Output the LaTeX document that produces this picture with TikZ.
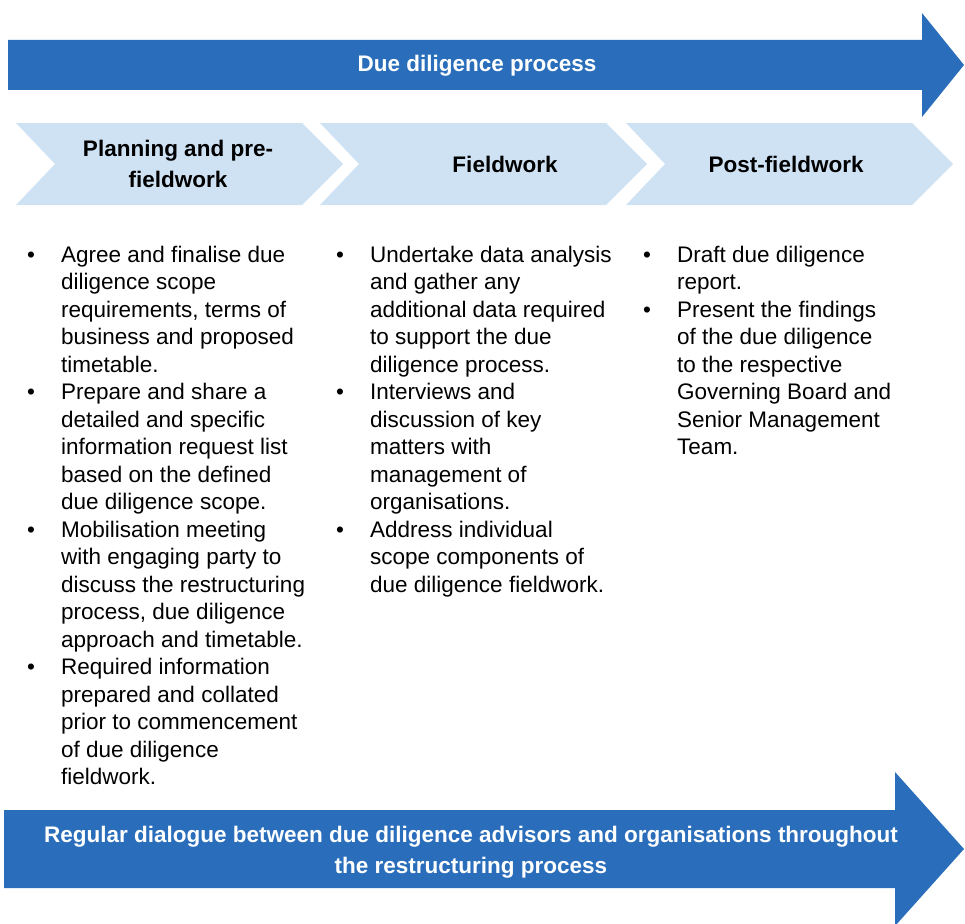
\documentclass[tikz,border=0pt]{standalone}
\usepackage{fontspec}
\setmainfont{Liberation Sans}
\usepackage{tikz}
\usetikzlibrary{positioning}
\definecolor{darkblue}{HTML}{2A6EBB}
\definecolor{lightblue}{HTML}{CFE2F3}
\newcommand{\bul}{\textbullet}

\begin{document}
\begin{tikzpicture}[x=1pt,y=-1pt]
        \useasboundingbox (0,0) rectangle (965,923);
        % big arrows
        \fill[darkblue] (8,40) -- (922,40) -- (922,13) -- (964,65) -- (922,117) -- (922,90) -- (8,90) -- cycle;
        \fill[darkblue] (4,810) -- (895,810) -- (895,772) -- (964,849) -- (895,926) -- (895,888) -- (4,888) -- cycle;
        % chevrons
        \foreach \x in {16,320,626}
          \fill[lightblue] (\x,123) -- ++(286,0) -- ++(41,41) -- ++(-41,41) -- ++(-286,0) -- ++(39,-41) -- cycle;
        \begin{scope}[every node/.style={font=\fontsize{22.5}{31}\selectfont\bfseries,align=center,anchor=base,inner sep=0pt}]
          \node[text=white] (title) at (477,72) {Due diligence process};
          \node (plan) at (178,187) {Planning and pre-\\fieldwork};
          \node (field) at (505,172) {Fieldwork};
          \node (post) at (786,172) {Post-fieldwork};
          \node[text=white] (dialogue) at (471,873) {Regular dialogue between due diligence advisors and organisations throughout\\the restructuring process};
        \end{scope}
        \begin{scope}[every node/.style={font=\fontsize{22.5}{27.5}\selectfont,anchor=base west,inner sep=0pt}]
          \node (list1) at (27,262) {\begin{tabular}[t]{@{}p{34pt}@{}l@{}}
            \bul & Agree and finalise due\\ & diligence scope\\ & requirements, terms of\\ & business and proposed\\ & timetable.\\
            \bul & Prepare and share a\\ & detailed and specific\\ & information request list\\ & based on the defined\\ & due diligence scope.\\
            \bul & Mobilisation meeting\\ & with engaging party to\\ & discuss the restructuring\\ & process, due diligence\\ & approach and timetable.\\
            \bul & Required information\\ & prepared and collated\\ & prior to commencement\\ & of due diligence\\ & fieldwork.
          \end{tabular}};
          \node (list2) at (336,262) {\begin{tabular}[t]{@{}p{34pt}@{}l@{}}
            \bul & Undertake data analysis\\ & and gather any\\ & additional data required\\ & to support the due\\ & diligence process.\\
            \bul & Interviews and\\ & discussion of key\\ & matters with\\ & management of\\ & organisations.\\
            \bul & Address individual\\ & scope components of\\ & due diligence fieldwork.
          \end{tabular}};
          \node (list3) at (643,262) {\begin{tabular}[t]{@{}p{34pt}@{}l@{}}
            \bul & Draft due diligence\\ & report.\\
            \bul & Present the findings\\ & of the due diligence\\ & to the respective\\ & Governing Board and\\ & Senior Management\\ & Team.
          \end{tabular}};
        \end{scope}
      \end{tikzpicture}
\end{document}
